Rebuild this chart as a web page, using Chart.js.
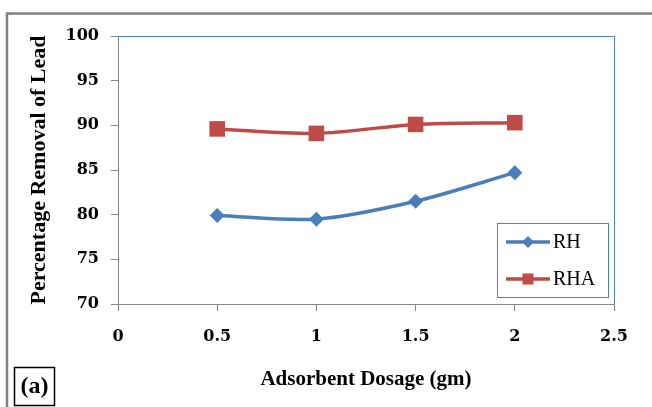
<!DOCTYPE html>
<html>
<head>
<meta charset="utf-8">
<script src="https://cdn.jsdelivr.net/npm/chart.js@4"></script>
<style>
  html, body { margin: 0; padding: 0; background: #fff; }
  canvas { display: block; }
</style>
</head>
<body>
<canvas id="chart" width="652" height="407"></canvas>
<script>
/* ─── Data ───────────────────────────────────────────────────────────────── */
const dosage    = [0.5, 1, 1.5, 2];
const rhValues  = [79.9, 79.5, 81.5, 84.7];
const rhaValues = [89.6, 89.1, 90.1, 90.3];
const xTicks    = [0, 0.5, 1, 1.5, 2, 2.5];
const yTicks    = [70, 75, 80, 85, 90, 95, 100];

const BLUE  = '#4A7EBB';
const RED   = '#BE4B48';
const AXIS  = '#868686';
const FRAME = '#4F81BD';

const toPoints = vals => dosage.map((x, i) => ({ x, y: vals[i] }));

/* ─── Decorations: page frame, plot border, legend, panel tag ────────────── */
const decor = {
  id: 'decor',
  beforeDraw(chart) {
    const { ctx } = chart;
    ctx.save();
    ctx.fillStyle = '#fff';
    ctx.fillRect(0, 0, chart.width, chart.height);
    ctx.strokeStyle = '#808080';
    ctx.lineWidth = 2.5;
    ctx.strokeRect(7, 13.5, 700, 500);
    ctx.restore();
  },
  afterDraw(chart) {
    const { ctx, chartArea: a } = chart;
    ctx.save();

    /* plot area top/right border */
    ctx.strokeStyle = FRAME;
    ctx.lineWidth = 1;
    ctx.beginPath();
    ctx.moveTo(a.left, a.top + 0.5);
    ctx.lineTo(a.right + 0.5, a.top + 0.5);
    ctx.lineTo(a.right + 0.5, a.bottom);
    ctx.stroke();

    /* legend */
    const lw = 111, lh = 74;
    const lx = a.right - 6 - lw, ly = a.bottom - 7 - lh;
    ctx.fillStyle = '#fff';
    ctx.fillRect(lx, ly, lw, lh);
    ctx.strokeStyle = FRAME;
    ctx.strokeRect(lx + 0.5, ly + 0.5, lw, lh);
    chart.data.datasets.forEach((ds, i) => {
      const cy = ly + 19 + i * 37;
      ctx.strokeStyle = ds.borderColor;
      ctx.lineWidth = 3.5;
      ctx.beginPath();
      ctx.moveTo(lx + 9, cy);
      ctx.lineTo(lx + 53, cy);
      ctx.stroke();
      ctx.fillStyle = ds.backgroundColor;
      ctx.beginPath();
      if (ds.pointStyle === 'rectRot') {
        const r = 6;
        ctx.moveTo(lx + 31 - r, cy);
        ctx.lineTo(lx + 31, cy - r);
        ctx.lineTo(lx + 31 + r, cy);
        ctx.lineTo(lx + 31, cy + r);
        ctx.closePath();
      } else {
        ctx.rect(lx + 31 - 5.5, cy - 5.5, 11, 11);
      }
      ctx.fill();
      ctx.fillStyle = '#000';
      ctx.font = '20px "Liberation Serif", serif';
      ctx.textAlign = 'left';
      ctx.textBaseline = 'middle';
      ctx.fillText(ds.label, lx + 56, cy + 1);
    });

    /* panel tag */
    ctx.strokeStyle = '#000';
    ctx.lineWidth = 1.5;
    ctx.strokeRect(14.5, 367.5, 40, 38);
    ctx.fillStyle = '#000';
    ctx.font = 'bold 24px "Liberation Serif", serif';
    ctx.textAlign = 'center';
    ctx.textBaseline = 'middle';
    ctx.fillText('(a)', 34.5, 387);

    ctx.restore();
  }
};

/* ─── Chart ──────────────────────────────────────────────────────────────── */
const tickFont  = { family: '"DejaVu Serif", serif', size: 16, weight: 'bold' };
const titleFont = { family: '"Liberation Serif", serif', size: 21, weight: 'bold' };

new Chart(document.getElementById('chart'), {
  type: 'line',
  data: {
    datasets: [
      {
        label: 'RH',
        data: toPoints(rhValues),
        borderColor: BLUE,
        backgroundColor: BLUE,
        borderWidth: 3.5,
        tension: 0.3,
        pointStyle: 'rectRot',
        pointRadius: 7.5,
        pointBorderWidth: 0,
        fill: false
      },
      {
        label: 'RHA',
        data: toPoints(rhaValues),
        borderColor: RED,
        backgroundColor: RED,
        borderWidth: 3.5,
        tension: 0.3,
        pointStyle: 'rect',
        pointRadius: 11,
        pointBorderWidth: 0,
        fill: false
      }
    ]
  },
  options: {
    responsive: false,
    animation: false,
    devicePixelRatio: 1,
    layout: { padding: { left: 8, top: 36, right: 38, bottom: 0 } },
    plugins: {
      legend: { display: false },
      tooltip: { enabled: false }
    },
    scales: {
      x: {
        type: 'linear',
        min: 0,
        max: 2.5,
        afterBuildTicks: s => { s.ticks = xTicks.map(v => ({ value: v })); },
        afterFit: s => { s.height = 103; },
        grid: { drawOnChartArea: false, drawTicks: true, tickLength: 7, color: AXIS },
        border: { display: true, color: AXIS, width: 1 },
        ticks: { font: tickFont, color: '#000', padding: 16, maxRotation: 0, callback: v => String(v) },
        title: {
          display: true,
          text: 'Adsorbent Dosage (gm)',
          font: titleFont,
          color: '#000',
          padding: { top: 0, bottom: 15 }
        }
      },
      y: {
        min: 70,
        max: 100,
        afterBuildTicks: s => { s.ticks = yTicks.map(v => ({ value: v })); },
        afterFit: s => { s.width = 110; },
        grid: { drawOnChartArea: false, drawTicks: true, tickLength: 7, color: AXIS },
        border: { display: true, color: AXIS, width: 1 },
        ticks: { font: tickFont, color: '#000', padding: 12, callback: v => String(v) },
        title: {
          display: true,
          text: 'Percentage Removal of Lead',
          font: { family: '"Liberation Serif", serif', size: 22, weight: 'bold' },
          color: '#000',
          padding: { top: 18, bottom: 0 }
        }
      }
    }
  },
  plugins: [decor]
});
</script>
</body>
</html>
